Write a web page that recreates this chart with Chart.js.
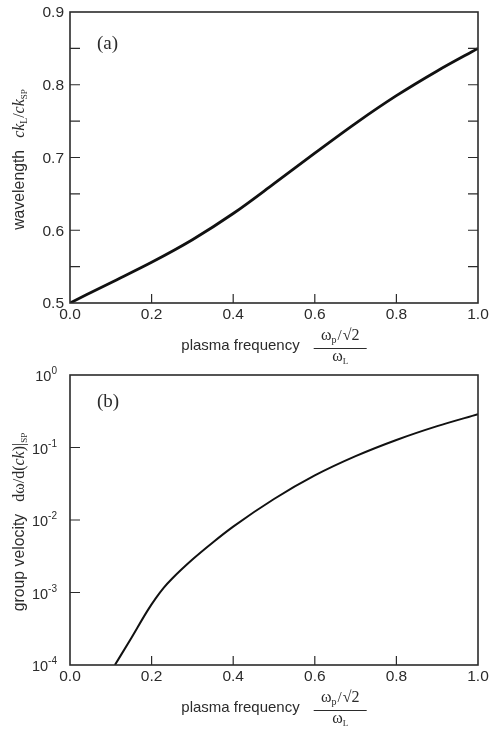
<!DOCTYPE html>
<html>
<head>
<meta charset="utf-8">
<script src="https://cdn.jsdelivr.net/npm/chart.js@4.4.1/dist/chart.umd.min.js"></script>
<style>
  body { margin: 0; background: #fff; }
  .panel { position: absolute; left: 0; width: 491px; height: 365px; }
</style>
</head>
<body>
<div class="panel" style="top:0"><canvas id="waveChart" width="491" height="365"></canvas></div>
<div class="panel" style="top:365px"><canvas id="groupChart" width="491" height="365"></canvas></div>
<script>
// ---------- Data ----------
const waveX = [0.0, 0.1, 0.2, 0.3, 0.4, 0.5, 0.6, 0.7, 0.8, 0.9, 1.0];
const waveY = [0.5, 0.528, 0.556, 0.587, 0.623, 0.664, 0.706, 0.747, 0.785, 0.819, 0.850];

const groupX = [0.11, 0.15, 0.19, 0.21, 0.23, 0.25, 0.30, 0.35, 0.40, 0.50, 0.60, 0.70, 0.80, 0.90, 1.00];
const groupY = [1e-4, 2.34e-4, 5.62e-4, 8.3e-4, 1.17e-3, 1.55e-3, 2.85e-3, 4.9e-3, 8.1e-3, 1.95e-2, 4.12e-2, 7.6e-2, 0.127, 0.197, 0.288];

const xTickLabels = ['0.0', '0.2', '0.4', '0.6', '0.8', '1.0'];
const waveTickLabels = ['0.5', '0.6', '0.7', '0.8', '0.9'];
const groupTickExponents = ['0', '-1', '-2', '-3', '-4'];

// ---------- Styles ----------
const INK = '#2b2b2b';
const SANS = '"Liberation Sans", Arial, Helvetica, sans-serif';
const SERIF = '"Liberation Serif", "Times New Roman", serif';

// draws a row of text pieces centred on (cx, baseline) in the current transform
function drawPieces(ctx, pieces, cx, baseY) {
  let total = 0;
  pieces.forEach(p => {
    ctx.font = p.font;
    p.w = ctx.measureText(p.text).width + (p.gap || 0);
    total += p.w;
  });
  let x = cx - total / 2;
  pieces.forEach(p => {
    ctx.font = p.font;
    ctx.fillText(p.text, x + (p.gap || 0), baseY + (p.dy || 0));
    x += p.w;
  });
}

function xTitle(ctx, area) {
  const cx = (area.left + area.right) / 2;
  const b = area.bottom;
  ctx.save();
  ctx.fillStyle = INK;
  ctx.textAlign = 'left';
  ctx.textBaseline = 'alphabetic';
  ctx.font = '15px ' + SANS;
  const labelW = ctx.measureText('plasma frequency').width;
  const fracW = 53;
  const start = cx - (labelW + 14 + fracW) / 2;
  ctx.fillText('plasma frequency', start, b + 47);
  const fx = start + labelW + 14 + fracW / 2;
  drawPieces(ctx, [
    { text: 'ω', font: '16px ' + SERIF },
    { text: 'p', font: '10px ' + SERIF, dy: 3 },
    { text: '/', font: '15px ' + SERIF, gap: 1 },
    { text: '√2', font: '16px ' + SERIF, gap: 1 }
  ], fx, b + 37);
  ctx.strokeStyle = INK;
  ctx.lineWidth = 1;
  ctx.beginPath();
  ctx.moveTo(fx - fracW / 2, b + 45.5);
  ctx.lineTo(fx + fracW / 2, b + 45.5);
  ctx.stroke();
  drawPieces(ctx, [
    { text: 'ω', font: '16px ' + SERIF },
    { text: 'L', font: '9px ' + SERIF, dy: 3 }
  ], fx, b + 58);
  ctx.restore();
}

function yTitle(ctx, area, pieces) {
  ctx.save();
  ctx.fillStyle = INK;
  ctx.textAlign = 'left';
  ctx.textBaseline = 'alphabetic';
  ctx.translate(24, (area.top + area.bottom) / 2 + 2);
  ctx.rotate(-Math.PI / 2);
  drawPieces(ctx, pieces, 0, 0);
  ctx.restore();
}

function frameAndTicks(ctx, area, xs, ys, yTicksLeft, yTicksRight) {
  ctx.save();
  ctx.strokeStyle = INK;
  ctx.lineWidth = 1.6;
  ctx.strokeRect(area.left, area.top, area.right - area.left, area.bottom - area.top);
  ctx.lineWidth = 1.2;
  ctx.beginPath();
  [0.2, 0.4, 0.6, 0.8].forEach(v => {
    const px = xs.getPixelForValue(v);
    ctx.moveTo(px, area.bottom);
    ctx.lineTo(px, area.bottom - 9);
  });
  yTicksLeft.forEach(v => {
    const py = ys.getPixelForValue(v);
    ctx.moveTo(area.left, py);
    ctx.lineTo(area.left + 10, py);
  });
  yTicksRight.forEach(v => {
    const py = ys.getPixelForValue(v);
    ctx.moveTo(area.right, py);
    ctx.lineTo(area.right - 10, py);
  });
  ctx.stroke();

  ctx.fillStyle = INK;
  ctx.font = '15.5px ' + SANS;
  ctx.textAlign = 'center';
  ctx.textBaseline = 'top';
  xTickLabels.forEach(t => {
    ctx.fillText(t, xs.getPixelForValue(parseFloat(t)), area.bottom + 4);
  });
  ctx.restore();
}

const wavePlugin = {
  id: 'waveDecor',
  afterDatasetsDraw(chart) {
    const { ctx, chartArea: area, scales } = chart;
    const minors = [0.55, 0.6, 0.65, 0.7, 0.75, 0.8, 0.85];
    frameAndTicks(ctx, area, scales.x, scales.y, minors, minors);
    ctx.save();
    ctx.fillStyle = INK;
    ctx.font = '15.5px ' + SANS;
    ctx.textAlign = 'right';
    ctx.textBaseline = 'middle';
    waveTickLabels.forEach(t => {
      ctx.fillText(t, area.left - 6, scales.y.getPixelForValue(parseFloat(t)) + 1);
    });
    ctx.textAlign = 'left';
    ctx.textBaseline = 'alphabetic';
    ctx.font = '19px ' + SERIF;
    ctx.fillText('(a)', 97, area.top + 37);
    ctx.restore();
    xTitle(ctx, area);
    yTitle(ctx, area, [
      { text: 'wavelength', font: '15.8px ' + SANS },
      { text: 'ck', font: 'italic 16px ' + SERIF, gap: 12 },
      { text: 'L', font: '9.5px ' + SERIF, dy: 3 },
      { text: '/', font: '16px ' + SERIF },
      { text: 'ck', font: 'italic 16px ' + SERIF },
      { text: 'SP', font: '9px ' + SERIF, dy: 3 }
    ]);
  }
};

const groupPlugin = {
  id: 'groupDecor',
  afterDatasetsDraw(chart) {
    const { ctx, chartArea: area, scales } = chart;
    frameAndTicks(ctx, area, scales.x, scales.y, [1e-1, 1e-2, 1e-3], []);
    ctx.save();
    ctx.fillStyle = INK;
    ctx.textAlign = 'left';
    ctx.textBaseline = 'alphabetic';
    groupTickExponents.forEach(e => {
      const py = scales.y.getPixelForValue(Math.pow(10, parseInt(e, 10)));
      ctx.font = '10px ' + SANS;
      const ew = ctx.measureText(e).width;
      ctx.font = '14.5px ' + SANS;
      const bw = ctx.measureText('10').width;
      const right = area.left - 13;
      ctx.fillText('10', right - ew - bw, py + 6);
      ctx.font = '10px ' + SANS;
      ctx.fillText(e, right - ew, py - 1);
    });
    ctx.font = '19px ' + SERIF;
    ctx.fillText('(b)', 97, area.top + 32);
    ctx.restore();
    xTitle(ctx, area);
    yTitle(ctx, area, [
      { text: 'group velocity', font: '15.8px ' + SANS },
      { text: 'dω/d(', font: '16px ' + SERIF, gap: 12 },
      { text: 'ck', font: 'italic 16px ' + SERIF },
      { text: ')|', font: '16px ' + SERIF },
      { text: 'SP', font: '9px ' + SERIF, dy: 3 }
    ]);
  }
};

function lineData(xs, ys) {
  return xs.map((x, i) => ({ x, y: ys[i] }));
}

new Chart(document.getElementById('waveChart'), {
  type: 'line',
  data: {
    datasets: [{
      data: lineData(waveX, waveY),
      borderColor: '#111',
      borderWidth: 2.8,
      pointRadius: 0,
      cubicInterpolationMode: 'monotone',
      fill: false
    }]
  },
  options: {
    responsive: false,
    animation: false,
    layout: { padding: { left: 70, right: 13, top: 12, bottom: 62 } },
    plugins: { legend: { display: false }, tooltip: { enabled: false } },
    scales: {
      x: { type: 'linear', min: 0, max: 1, display: false },
      y: { type: 'linear', min: 0.5, max: 0.9, display: false }
    }
  },
  plugins: [wavePlugin]
});

new Chart(document.getElementById('groupChart'), {
  type: 'line',
  data: {
    datasets: [{
      data: lineData(groupX, groupY),
      borderColor: '#111',
      borderWidth: 2,
      pointRadius: 0,
      cubicInterpolationMode: 'monotone',
      fill: false
    }]
  },
  options: {
    responsive: false,
    animation: false,
    layout: { padding: { left: 70, right: 13, top: 10, bottom: 65 } },
    plugins: { legend: { display: false }, tooltip: { enabled: false } },
    scales: {
      x: { type: 'linear', min: 0, max: 1, display: false },
      y: { type: 'logarithmic', min: 1e-4, max: 1, display: false }
    }
  },
  plugins: [groupPlugin]
});
</script>
</body>
</html>
